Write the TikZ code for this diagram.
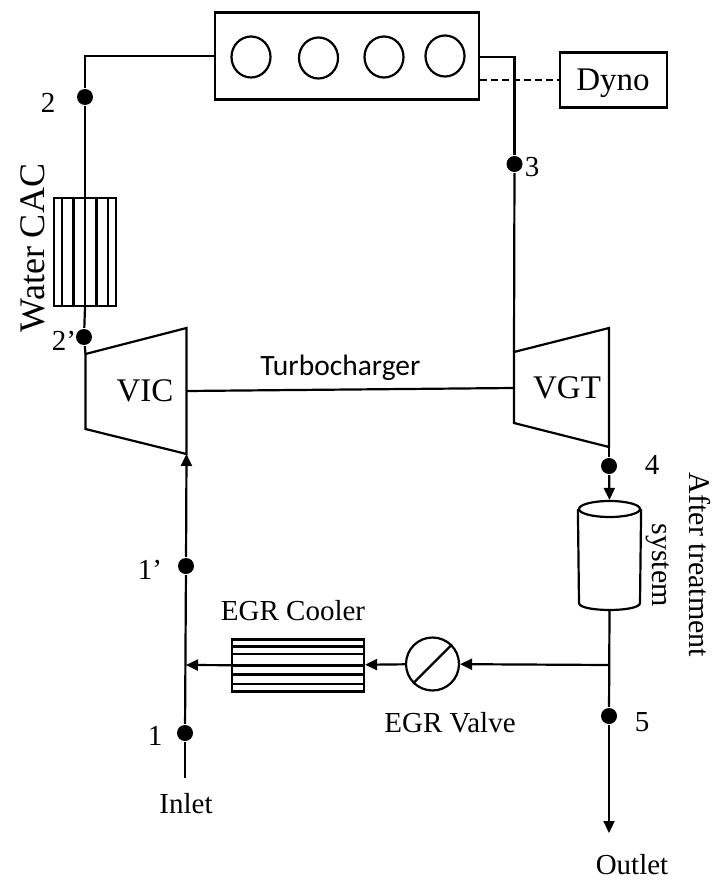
\documentclass[tikz,border=0pt]{standalone}
\usepackage{fontspec}
\setmainfont{Liberation Serif}
\newfontfamily\turbofont{Carlito}
\usetikzlibrary{arrows.meta,shapes.geometric}

\tikzset{
  part/.style={draw,rectangle,inner sep=0pt},
  dot/.style={circle,fill=black,inner sep=0pt,minimum size=16pt},
  cyl/.style={draw,ellipse,inner sep=0pt,minimum width=39pt,minimum height=41pt},
  lab/.style={font=\fontsize{29}{37}\selectfont,inner sep=0pt},
  big/.style={font=\fontsize{33}{37}\selectfont,inner sep=0pt}
}

\begin{document}
\begin{tikzpicture}[x=1pt,y=-1pt,>={Stealth[length=12pt,width=11pt,inset=0pt]},line width=2.2pt]
\useasboundingbox (0,0) rectangle (713,880);

\node[part,minimum width=264pt,minimum height=87pt] (engine) at (347,56) {};
\node[cyl] (c1) at (251,57) {};
\node[cyl] (c2) at (318.5,58) {};
\node[cyl] (c3) at (384,57) {};
\node[cyl] (c4) at (445,56) {};
\node[part,minimum width=107pt,minimum height=55pt] (dyno) at (613.5,80) {};
\node[big] (ldyno) at (613,83) {Dyno};

\node[part,minimum width=62pt,minimum height=108pt] (cac) at (85,252) {};
\foreach \x in {-23,-11.5,0,11.5,23}
  \draw (cac.north) ++(\x,0) -- ++(0,108);

\coordinate (vicA) at (85.5,354);
\coordinate (vicB) at (186.5,328);
\coordinate (vicC) at (186.5,454);
\coordinate (vicD) at (85.5,429);
\draw (vicA) -- (vicB) -- (vicC) -- (vicD) -- cycle;
\coordinate (vgtA) at (514,352);
\coordinate (vgtB) at (609,328);
\coordinate (vgtC) at (609,447);
\coordinate (vgtD) at (514,423);
\draw (vgtA) -- (vgtB) -- (vgtC) -- (vgtD) -- cycle;
\coordinate (vicM) at (186.5,391);
\coordinate (vgtM) at (514,388);
\node[big] (vic) at (145,391) {VIC};
\node[big] (vgt) at (567,388) {VGT};

\node[dot] (p2) at (85,97) {};
\node[dot] (p2a) at (84,337) {};
\node[dot] (p3) at (514.5,164) {};
\node[dot] (p4) at (609,466) {};
\node[dot] (p5) at (609,716) {};
\node[dot] (p1a) at (186,566) {};
\node[dot] (p1) at (185,733) {};

\node[draw,ellipse,inner sep=0pt,minimum width=61pt,minimum height=16pt] (atsTop) at (609.5,509) {};
\coordinate (atsBot) at (609.5,610);
\draw (atsTop.west) -- (579,603) .. controls (579,612.3) and (640,612.3) .. (640,603) -- (atsTop.east);

\node[part,minimum width=132pt,minimum height=52pt] (cooler) at (298,665.5) {};
\foreach \y in {-19,-11.5,0,9,18.5}
  \draw (cooler.west) ++(0,\y) -- ++(132,0);

\node[draw,circle,inner sep=0pt,minimum size=53pt] (valve) at (432.5,664) {};
\draw (valve.225) -- (valve.45);

\coordinate (inlet) at (185,778);
\coordinate (outlet) at (609,833);
\coordinate (split) at (609,665);
\coordinate (join) at (186,665);

\draw (engine.west) -| (p2);
\draw (p2) -- (cac.north);
\draw (cac.south) -- (p2a);
\draw (p2a) -- (vicA);
\draw (inlet) -- (p1);
\draw (p1) -- (p1a);
\draw[->] (p1a) -- (vicC);
\draw (vicM) -- node[pos=0.47,above=8pt,font=\turbofont\fontsize{29.5}{32}\selectfont,inner sep=0pt] (turbo) {Turbocharger} (vgtM);
\draw (engine.east |- c1) -| (p3);
\draw (p3) -- (vgtA);
\draw[dash pattern=on 7pt off 4pt,line width=1.2pt] (engine.east |- dyno) -- (dyno.west);
\draw (vgtC) -- (p4);
\draw[->] (p4) -- (atsTop.north);
\draw (atsBot) -- (p5);
\draw[->] (p5) -- (outlet);
\draw[->] (split) -- (valve);
\draw[->] (valve) -- (cooler);
\draw[->] (cooler) -- (join);

\node[lab] (l2) at (48,103) {2};
\node[lab] (l2a) at (64,341) {2’};
\node[lab] (l3) at (532,167) {3};
\node[lab] (l4) at (652,465) {4};
\node[lab] (l5) at (642,722) {5};
\node[lab] (l1a) at (150,570) {1’};
\node[lab] (l1) at (155,736) {1};
\node[lab] (linlet) at (186,804) {Inlet};
\node[lab] (loutlet) at (632,865) {Outlet};
\node[lab] (lcooler) at (293,611) {EGR Cooler};
\node[lab] (lvalve) at (450,723) {EGR Valve};
\node[font=\fontsize{36}{40}\selectfont,inner sep=0pt,rotate=90] (lcac) at (33,248) {Water CAC};
\node[font=\fontsize{30}{37}\selectfont,inner sep=0pt,rotate=-90,align=center] (lats) at (678,565) {After treatment\\system};
\end{tikzpicture}
\end{document}
